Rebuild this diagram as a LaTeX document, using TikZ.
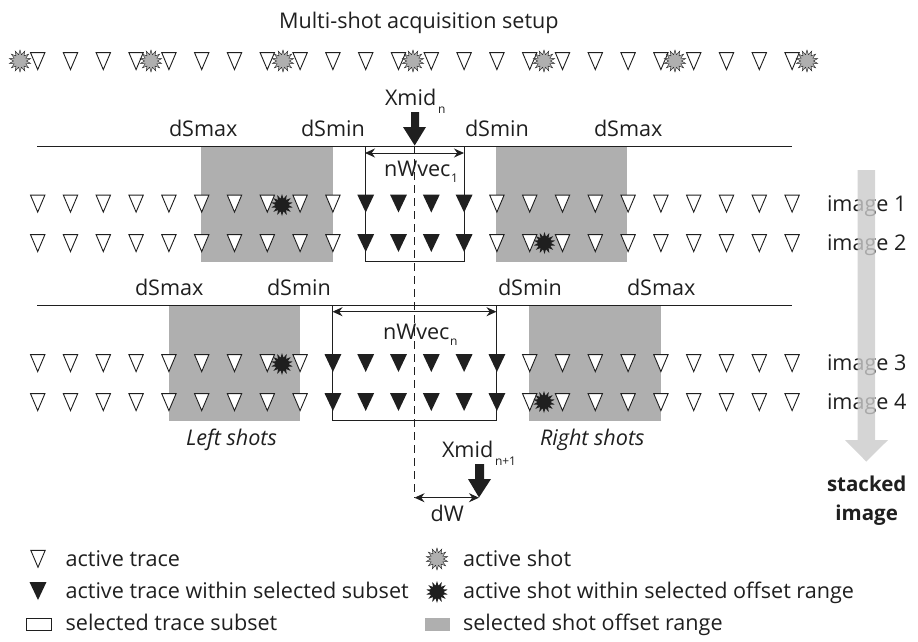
\documentclass[tikz,border=0pt]{standalone}
\usepackage{fontspec}
\setmainfont{Open Sans}
\usetikzlibrary{shapes.geometric,arrows.meta}
\definecolor{ink}{HTML}{1F1F1F}
\definecolor{band}{HTML}{AFAFAF}
\tikzset{
  lbl/.style={anchor=base west,inner sep=0pt,outer sep=0pt,text=ink,font=\fontsize{21.6}{24}\selectfont},
  sub/.style={anchor=base west,inner sep=0pt,outer sep=0pt,text=ink,font=\fontsize{12}{12}\selectfont},
  pics/twhite/.style={code={\draw[ink,line width=.9pt,fill=white,line join=miter] (-7.2,-8.4)--(7.2,-8.4)--(0,8.6)--cycle;}},
  pics/tblack/.style={code={\fill[ink] (-8.4,-8.8)--(8.4,-8.8)--(0,9)--cycle;}},
  shotg/.style={star,star points=14,star point ratio=1.7,minimum size=22pt,inner sep=0pt,draw=ink,line width=.4pt,fill=band},
  shotb/.style={star,star points=14,star point ratio=1.7,minimum size=22pt,inner sep=0pt,fill=ink},
  rng/.style={fill=band,draw=none},
  frameline/.style={ink,line width=1pt},
  dim/.style={ink,line width=1pt,{Stealth[length=10pt,width=9pt]}-{Stealth[length=10pt,width=9pt]}},
  bigarrow/.style={fill=ink,draw=none}
}
\begin{document}
\begin{tikzpicture}[x=1pt,y=-1pt]
\useasboundingbox (0,0) rectangle (918,642);
% offset ranges
\fill[rng] (201,146) rectangle (332.7,261.5);
\fill[rng] (496,146) rectangle (627,261.5);
\fill[rng] (168.7,305) rectangle (300,420.5);
\fill[rng] (529,305) rectangle (660.7,420.5);
% reference lines
\coordinate (l1a) at (37,146); \coordinate (l1b) at (792,146);
\coordinate (l2a) at (37,305); \coordinate (l2b) at (792,305);
\draw[frameline] (l1a)--(l1b);
\draw[frameline] (l2a)--(l2b);
% subsets
\draw[frameline] (365,146) rectangle (464,261.5);
\draw[frameline] (332.5,305) rectangle (496.5,420.5);
% dashed midpoint
\coordinate (midtop) at (414.5,146); \coordinate (midbot) at (414.5,497.7);
\coordinate (midnext) at (479,497.7);
\draw[ink,line width=.8pt,dash pattern=on 8pt off 5pt] (midtop)--(midbot);
% dimensions
\coordinate (w1a) at (365,153); \coordinate (w1b) at (464,153);
\coordinate (w2a) at (332.5,311.7); \coordinate (w2b) at (496.5,311.7);
\draw[dim] (w1a)--(w1b);
\draw[dim] (w2a)--(w2b);
\draw[dim] (midbot)--(midnext);
% traces
\foreach \i in {0,...,23} {\pic at ({37.7+32.8*\i},61) {twhite};}
\foreach \y in {203.5,243} {
  \foreach \i in {0,...,9,14,15,...,23} {\pic at ({37.7+32.8*\i},\y) {twhite};}
  \foreach \i in {10,...,13} {\pic at ({37.7+32.8*\i},\y) {tblack};}
}
\foreach \y in {363,402} {
  \foreach \i in {0,...,8,15,16,...,23} {\pic at ({37.7+32.8*\i},\y) {twhite};}
  \foreach \i in {9,...,14} {\pic at ({37.7+32.8*\i},\y) {tblack};}
}
% shots
\foreach \n/\x in {1/20,2/151,3/283,4/413,5/544,6/675,7/807} {\node[shotg] (s\n) at (\x,61) {};}
\node[shotb] (b1) at (282,205) {};
\node[shotb] (b2) at (544.5,243) {};
\node[shotb] (b3) at (282,364) {};
\node[shotb] (b4) at (544,402) {};
% labels
\node[lbl] (title) at (279,29) {Multi-shot acquisition setup};
\node[lbl] (xn) at (385,105) {Xmid};
\node[sub] (xns) at (438,113) {n};
\node[lbl] (a1) at (169,136) {dSmax};
\node[lbl] (a2) at (301,136) {dSmin};
\node[lbl] (a3) at (465,136) {dSmin};
\node[lbl] (a4) at (594,136) {dSmax};
\node[lbl] (a5) at (135,295.7) {dSmax};
\node[lbl] (a6) at (267,295.7) {dSmin};
\node[lbl] (a7) at (498,295.7) {dSmin};
\node[lbl] (a8) at (627,295.7) {dSmax};
\node[lbl] (nv1) at (384,176.7) {nWvec};
\node[sub] (nv1s) at (451,182.7) {1};
\node[lbl] (nv2) at (383,339) {nWvec};
\node[sub] (nv2s) at (450,345) {n};
\node[lbl] (i1) at (827,211) {image 1};
\node[lbl] (i2) at (827,250) {image 2};
\node[lbl] (i3) at (827,370) {image 3};
\node[lbl] (i4) at (827,409) {image 4};
\node[lbl,font=\fontsize{21.6}{24}\selectfont\itshape] (ls) at (186,445.7) {Left shots};
\node[lbl,font=\fontsize{21.6}{24}\selectfont\itshape] (rs) at (540,445.7) {Right shots};
\node[lbl] (xn1) at (442,457.7) {Xmid};
\node[sub] (xn1s) at (495,465) {n+1};
\node[lbl] (dw) at (430.7,521.7) {dW};
\node[lbl,anchor=base,font=\fontsize{20.5}{24}\selectfont\bfseries] (st1) at (866.7,491.7) {stacked};
\node[lbl,anchor=base,font=\fontsize{20.5}{24}\selectfont\bfseries] (st2) at (866.7,520.7) {image};
% midpoint arrows
\fill[bigarrow] (411,112)--(419,112)--(419,127)--(426,127)--(414.7,145.5)--(403,127)--(411,127)--cycle;
\fill[bigarrow] (475,464)--(484,464)--(484,479)--(491,479)--(479,497.5)--(468,479)--(475,479)--cycle;
% stack arrow
\fill[band!65!white,opacity=.8] (857.7,170)--(875,170)--(875,440)--(888,440)--(866.3,461.6)--(845,440)--(857.7,440)--cycle;
% legend
\pic at (38,558.7) {twhite};
\pic at (38,591) {tblack};
\draw[ink,line width=1pt] (26,618) rectangle (51,630.5);
\node[lbl] (k1) at (65.6,566) {active trace};
\node[lbl] (k2) at (65.6,598) {active trace within selected subset};
\node[lbl] (k3) at (65.6,630.7) {selected trace subset};
\node[shotg] (k4) at (437,559) {};
\node[shotb] (k5) at (437,592) {};
\fill[rng] (425,617.5) rectangle (450,630.7);
\node[lbl] (k6) at (463,566) {active shot};
\node[lbl] (k7) at (463,598) {active shot within selected offset range};
\node[lbl] (k8) at (463,630.7) {selected shot offset range};
\end{tikzpicture}
\end{document}
